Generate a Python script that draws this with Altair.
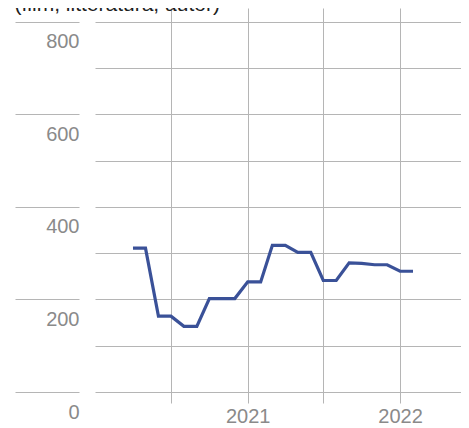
import altair as alt
import pandas as pd

months = ["2020-04-01", "2020-05-01", "2020-06-01", "2020-07-01", "2020-08-01",
          "2020-09-01", "2020-10-01", "2020-11-01", "2020-12-01", "2021-01-01",
          "2021-02-01", "2021-03-01", "2021-04-01", "2021-05-01", "2021-06-01",
          "2021-07-01", "2021-08-01", "2021-09-01", "2021-10-01", "2021-11-01",
          "2021-12-01", "2022-01-01", "2022-02-01"]
values = [311, 311, 164, 164, 142, 142, 202, 202, 202, 238, 238, 317, 317,
          302, 302, 241, 241, 279, 278, 275, 275, 261, 261]

y_ticks = [0, 100, 200, 300, 400, 500, 600, 700, 800]
x_ticks = ["2020-07-01", "2021-01-01", "2021-07-01", "2022-01-01"]
title_text = "(film, litteratura, autor)"

df = pd.DataFrame({"month": pd.to_datetime(months), "value": values})

FONT = "Liberation Sans"
GRID = "#b5b5b5"
LABEL = "#8a8a8a"

x_vals = [alt.DateTime(year=int(d[:4]), month=int(d[5:7]), date=1) for d in x_ticks]

chart = alt.Chart(df).mark_line(color="#3a5198", strokeWidth=3.2, interpolate="linear").encode(
    x=alt.X("month:T",
            scale=alt.Scale(domain=[alt.DateTime(year=2020, month=1, date=1),
                                    alt.DateTime(year=2022, month=5, date=27)]),
            axis=alt.Axis(values=x_vals, grid=True, gridColor=GRID, gridWidth=1,
                          domain=False, ticks=True, tickColor=GRID, tickSize=11, tickWidth=1,
                          labelExpr="month(datum.value) == 0 ? timeFormat(datum.value, '%Y') : ''",
                          labelFont=FONT, labelFontSize=20, labelColor=LABEL,
                          labelPadding=3, title=None)),
    y=alt.Y("value:Q",
            scale=alt.Scale(domain=[0, 830], nice=False, zero=True),
            axis=alt.Axis(values=y_ticks, grid=True, gridColor=GRID, gridWidth=1,
                          domain=False, ticks=True, tickColor=GRID, tickWidth=1, tickSize=64,
                          tickOpacity={"condition": {"test": "datum.value % 200 == 0", "value": 1}, "value": 0},
                          offset=16,
                          labelExpr="datum.value % 200 == 0 ? datum.label : ''",
                          labelAlign="right", labelBaseline="top", labelPadding=-64,
                          labelOffset=10,
                          labelFont=FONT, labelFontSize=20, labelColor=LABEL, title=None)),
).properties(
    width=366,
    height=384,
    title=alt.TitleParams(title_text, anchor="start", dx=0, offset=-24,
                          font=FONT, fontSize=21, fontWeight="normal", color="#1e1e1e",
                          baseline="alphabetic"),
    autosize=alt.AutoSizeParams(type="none"),
    padding={"left": 87, "top": 0, "right": 0, "bottom": 36},
).configure_view(stroke=None)

chart.save("out.html", embed_options={"renderer": "svg", "actions": False})
